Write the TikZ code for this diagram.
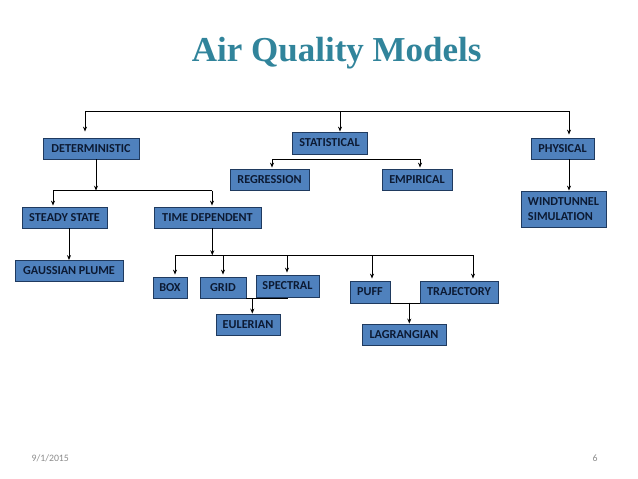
\documentclass[tikz,border=0pt]{standalone}
\usepackage{fontspec}
\setmainfont{Carlito}
\newfontfamily\titlefont{Liberation Serif}
\usetikzlibrary{arrows.meta,positioning}
\definecolor{boxblue}{HTML}{4F81BD}
\definecolor{boxline}{HTML}{1F3A5F}
\definecolor{boxtext}{HTML}{0C1A33}
\definecolor{titleteal}{HTML}{31849B}
\definecolor{footgray}{HTML}{8B8B8B}
\newcommand\modelfont{\fontsize{12.2}{15}\selectfont\bfseries}

\begin{document}
\begin{tikzpicture}[x=1pt,y=-1pt,>={Stealth[length=5pt,width=4pt]},
  model/.style={draw=boxline,fill=boxblue,line width=0.8pt,text=boxtext,font=\modelfont,
    minimum height=21pt,inner sep=2pt},
  link/.style={line width=0.9pt}]
  \useasboundingbox (0,0) rectangle (638,479);

  % Title and footer
  \node[anchor=base,text=titleteal,font=\titlefont\bfseries\fontsize{35}{40}\selectfont] (title) at (336.7,61) {Air Quality Models};
  \node[anchor=base west,text=footgray,font=\fontsize{9.8}{11}\selectfont] (date) at (28,461) {9/1/2015};
  \node[anchor=base east,text=footgray,font=\fontsize{9.8}{11}\selectfont] (page) at (601,461) {6};

  % Boxes
  \node[model,minimum width=96pt] (det) at (91,148.5) {DETERMINISTIC};
  \node[model,minimum width=75pt,minimum height=22pt] (stat) at (329.5,143) {STATISTICAL};
  \node[model,minimum width=63pt] (phys) at (562.5,148.5) {PHYSICAL};
  \node[model,minimum width=79pt] (reg) at (269.5,179.5) {REGRESSION};
  \node[model,minimum width=70pt] (emp) at (417,179.5) {EMPIRICAL};
  \node[model,minimum width=85pt,minimum height=36pt,align=left] (wind) at (563.5,209) {WINDTUNNEL\\SIMULATION};
  \node[model,minimum width=85pt] (steady) at (64.5,217.5) {STEADY STATE};
  \node[model,minimum width=107pt] (timedep) at (207.5,217.5) {TIME DEPENDENT};
  \node[model,minimum width=108pt] (gauss) at (69,271) {GAUSSIAN PLUME};
  \node[model,minimum width=34pt] (box) at (170,287.5) {BOX};
  \node[model,minimum width=46pt] (grid) at (223,287.5) {GRID};
  \node[model,minimum width=63pt,minimum height=22pt] (spec) at (287.5,286) {SPECTRAL};
  \node[model,minimum width=64pt] (eul) at (248,324.5) {EULERIAN};
  \node[model,minimum width=40pt,minimum height=22pt] (puff) at (370,292) {PUFF};
  \node[model,minimum width=78pt,minimum height=22pt] (traj) at (459,292) {TRAJECTORY};
  \node[model,minimum width=84pt] (lag) at (404,334.5) {LAGRANGIAN};

  % Top level
  \coordinate (topL) at (85,111);
  \coordinate (topM) at (340,111);
  \coordinate (topR) at (569,111);
  \draw[link] (topL) -- (topR);
  \draw[link,->,shorten >=6pt] (topL) -- (topL |- det.north);
  \draw[link,->] (topM) -- (topM |- stat.north);
  \draw[link,->,shorten >=3pt] (topR) -- (topR |- phys.north);

  % Deterministic
  \coordinate (detL) at (53,190.7);
  \coordinate (detJ) at (96,190.7);
  \coordinate (detR) at (212,190.7);
  \draw[link] (detL) -- (detR);
  \draw[link,->] (det.south -| detJ) -- (detJ);
  \draw[link,->,shorten >=1pt] (detL) -- (detL |- steady.north);
  \draw[link,->,shorten >=1pt] (detR) -- (detR |- timedep.north);

  % Statistical
  \coordinate (statL) at (272,159);
  \coordinate (statR) at (420,159);
  \draw[link] (statL) -- (statR);
  \draw[link,->,shorten >=1pt] (statL) -- (statL |- reg.north);
  \draw[link,->,shorten >=1pt] (statR) -- (statR |- emp.north);

  % Physical
  \draw[link,->] (phys.south -| topR) -- (wind.north -| topR);

  % Steady state
  \draw[link,->] (gauss.north |- steady.south) -- (gauss.north);

  % Time dependent
  \coordinate (tdL) at (175,255.3);
  \coordinate (tdJ) at (212.3,255.3);
  \coordinate (tdR) at (473,255.3);
  \draw[link] (tdL) -- (tdR);
  \draw[link,->] (timedep.south -| tdJ) -- (tdJ);
  \foreach \x/\n in {175/box,223/grid,287/spec,372/puff,473/traj}
    \draw[link,->,shorten >=2pt] (\x,255.3) -- (\x,255.3 |- \n.north);

  % Eulerian and Lagrangian
  \coordinate (eulJ) at (252.3,298.7);
  \draw[link] (grid.south east) -- (spec.south |- grid.south east);
  \draw[link,->] (eulJ) -- (eulJ |- eul.north);
  \coordinate (lagJ) at (409.3,302.7);
  \draw[link] (puff.south east) -- (traj.south west);
  \draw[link,->] (lagJ) -- (lagJ |- lag.north);
\end{tikzpicture}
\end{document}
